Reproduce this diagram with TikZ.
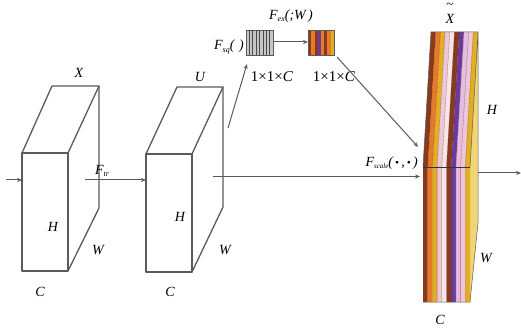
\documentclass[tikz,border=0pt]{standalone}
\usepackage{fontspec}
\setmainfont{Liberation Serif}
\usetikzlibrary{arrows.meta}
\definecolor{edge}{HTML}{5A5A5A}
\definecolor{sbrown}{HTML}{8A3A1C}
\definecolor{sorange}{HTML}{E6792A}
\definecolor{sgold}{HTML}{E4AE22}
\definecolor{spink}{HTML}{EEC6DA}
\definecolor{swhite}{HTML}{F6E6E8}
\definecolor{spurple}{HTML}{6A3A9E}
\definecolor{slpink}{HTML}{E6BCE0}
\definecolor{sside}{HTML}{EED677}
\begin{document}
\begin{tikzpicture}[x=1pt,y=-1pt,
  boxline/.style={draw=edge,line width=1.3pt,line join=round},
  conn/.style={draw=edge,line width=1pt,-{Stealth[length=5pt,width=4pt]}},
  lab/.style={font=\itshape\fontsize{14}{14}\selectfont,inner sep=0pt},
  dimlab/.style={font=\fontsize{15}{15}\selectfont,inner sep=0pt}]
\useasboundingbox (0,0) rectangle (521,328);
% ---- box 1 (X)
\coordinate (a1) at (22,153); \coordinate (a2) at (68,153);
\coordinate (a3) at (68,271); \coordinate (a4) at (22,271);
\coordinate (a5) at (52,86);  \coordinate (a6) at (99,86);
\coordinate (a7) at (99,208);
\draw[boxline] (a1)--(a2)--(a3)--(a4)--cycle;
\draw[boxline] (a1)--(a5)--(a6)--(a2);
\draw[boxline] (a6)--(a7)--(a3);
% ---- box 2 (U)
\coordinate (b1) at (146,154); \coordinate (b2) at (192,154);
\coordinate (b3) at (192,272); \coordinate (b4) at (146,272);
\coordinate (b5) at (177,87);  \coordinate (b6) at (223,87);
\coordinate (b7) at (223,207);
\draw[boxline] (b1)--(b2)--(b3)--(b4)--cycle;
\draw[boxline] (b1)--(b5)--(b6)--(b2);
\draw[boxline] (b6)--(b7)--(b3);
% labels
\node[lab] (lx) at (79,73) {X};
\node[lab] (lh1) at (53,227) {H};
\node[lab] (lw1) at (98,250) {W};
\node[lab] (lc1) at (40,292) {C};
\node[lab] (lu) at (200,77) {U};
\node[lab] (lh2) at (180,217) {H};
\node[lab] (lw2) at (225,250) {W};
\node[lab] (lc2) at (170,292) {C};
\node[lab] (ftr) at (102,171) {F\raisebox{-0.4ex}{\fontsize{8}{8}\selectfont tr}};
% ---- squeeze vectors
\node[draw=edge,fill=gray!45,minimum width=27pt,minimum height=25pt,inner sep=0pt,line width=0.6pt] (sq) at (259.5,42.5) {};
\foreach \i in {1,...,7} \draw[edge!80!black,line width=0.7pt] (246+\i*3.4,30)--(246+\i*3.4,55);
\node[draw=edge,minimum width=26pt,minimum height=25pt,inner sep=0pt,line width=0.6pt] (ex) at (321,42.5) {};
\foreach \c [count=\i from 0] in {sbrown,sorange,sbrown,spurple,sorange,sbrown,sorange,sgold}
  \fill[\c] (308.3+\i*3.18,30.3) rectangle (308.3+\i*3.18+3.18,54.7);
\draw[edge,line width=0.6pt] (308,30) rectangle (334,55);
\node[lab,anchor=east] (fsq) at (244,47) {F\raisebox{-0.4ex}{\fontsize{8}{8}\selectfont sq}(\,\,)};
\node[lab] (fex) at (291,16) {F\raisebox{-0.4ex}{\fontsize{8}{8}\selectfont ex}(;W\,)};
\node[dimlab] (d1) at (272,77) {1×1×\textit{C}};
\node[dimlab] (d2) at (334,77) {1×1×\textit{C}};
% ---- box 3 (X tilde)
\fill[sside] (470,167)--(478,32)--(478,223)--(470,302)--cycle;
\foreach \c [count=\i from 0] in {sbrown,sorange,sgold,spink,swhite,sbrown,spurple,slpink,spink,sgold}
  \fill[\c] ({423+\i*4.7},302)--({423+(\i+1)*4.7},302)--({423+(\i+1)*4.7},167)--({431+(\i+1)*4.7},32)--({431+\i*4.7},32)--({423+\i*4.7},167)--cycle;
\foreach \i in {1,...,9} \draw[sbrown!70!black,line width=0.3pt,opacity=0.6] ({423+\i*4.7},302)--({423+\i*4.7},167)--({431+\i*4.7},32);
\coordinate (c1) at (423,167); \coordinate (c2) at (470,167);
\coordinate (c3) at (470,302); \coordinate (c4) at (423,302);
\coordinate (c5) at (431,32); \coordinate (c6) at (478,32); \coordinate (c7) at (478,223);
\draw[edge,line width=0.5pt] (c1)--(c5)--(c6)--(c2) (c6)--(c7)--(c3) (c4)--(c3);
\draw[black!80,line width=0.9pt] (c1)--(c2);
\node[lab] (lxt) at (450,19) {X};
\node[inner sep=0pt,font=\fontsize{13}{13}\selectfont] (tilde) at (450,6) {\textasciitilde};
\node[lab] (lh3) at (492,110) {H};
\node[lab] (lw3) at (486,258) {W};
\node[lab] (lc3) at (440,320) {C};
\node[lab,anchor=east] (fsc) at (418,163) {F\raisebox{-0.4ex}{\fontsize{7}{7}\selectfont scale}(\,\raisebox{0.3ex}{\scalebox{0.5}{$\bullet$}}\,,\,\raisebox{0.3ex}{\scalebox{0.5}{$\bullet$}}\,)};
% ---- connectors
\coordinate (in0) at (6,180); \coordinate (in1) at (22,180);
\coordinate (t0) at (85,180); \coordinate (t1) at (146,180);
\coordinate (s0) at (213,176.5); \coordinate (s1) at (420,176.5);
\coordinate (q0) at (228,128); \coordinate (q1) at (247,64);
\coordinate (e0) at (273,42); \coordinate (e1) at (308,42);
\coordinate (r0) at (337,57); \coordinate (r1) at (418,147);
\coordinate (o0) at (478,173); \coordinate (o1) at (521,173);
\draw[conn] (in0)--(in1);
\draw[conn] (t0)--(t1);
\draw[conn] (s0)--(s1);
\draw[conn] (q0)--(q1);
\draw[conn] (e0)--(e1);
\draw[conn] (r0)--(r1);
\draw[conn] (o0)--(o1);
\end{tikzpicture}
\end{document}
